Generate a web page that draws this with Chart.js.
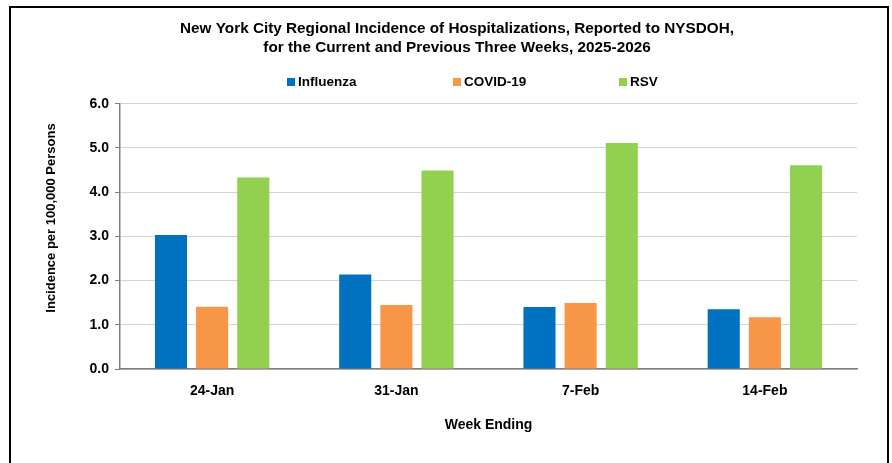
<!DOCTYPE html>
<html>
<head>
<meta charset="utf-8">
<script src="https://cdn.jsdelivr.net/npm/chart.js@4"></script>
<style>
  html, body { margin: 0; padding: 0; background: #fff; overflow: hidden; }
  #frame { position: absolute; left: 9px; top: 6px; width: 880px; height: 480px; border: 2px solid #000; box-sizing: border-box; }
  #wrap { position: absolute; left: 0; top: 0; width: 892px; height: 463px; }
</style>
</head>
<body>
<div id="frame"></div>
<div id="wrap"><canvas id="chart" width="892" height="463"></canvas></div>
<script>
// semanas y valores
var weeks = ['24-Jan', '31-Jan', '7-Feb', '14-Feb'];
var influenza = [3.03, 2.14, 1.40, 1.35];
var covid = [1.41, 1.45, 1.49, 1.17];
var rsv = [4.33, 4.49, 5.11, 4.61];
var yTicks = [0, 1, 2, 3, 4, 5, 6];
var yTitle = 'Incidence per 100,000 Persons';

var fontFam = "'Liberation Sans', Arial, sans-serif";
Chart.defaults.font.family = fontFam;
Chart.defaults.color = '#000';

// leyenda con entradas de ancho fijo (como Excel) y titulo del eje Y
var customText = {
    id: 'customText',
    afterLayout: function (chart) {
        // centrar el titulo un poco mas a la derecha
        chart.titleBlock.left += 27;
    },
    afterDraw: function (chart) {
        var c = chart.ctx;
        c.save();
        c.font = 'bold 13.5px ' + fontFam;
        c.textBaseline = 'middle';
        c.textAlign = 'left';
        chart.data.datasets.forEach(function (ds, i) {
            var x = 287 + i * 166;
            c.fillStyle = ds.backgroundColor;
            c.fillRect(x, 78, 8, 8);
            c.fillStyle = '#000';
            c.fillText(ds.label, x + 11, 82);
        });
        c.translate(51, 218);
        c.rotate(-Math.PI / 2);
        c.textAlign = 'center';
        c.font = 'bold 13px ' + fontFam;
        c.fillText(yTitle, 0, 0);
        c.restore();
    }
};

var ctx = document.getElementById('chart').getContext('2d');
var myChart = new Chart(ctx, {
    type: 'bar',
    data: {
        labels: weeks,
        datasets: [
            { label: 'Influenza', data: influenza, backgroundColor: '#0070C0' },
            { label: 'COVID-19', data: covid, backgroundColor: '#F79646' },
            { label: 'RSV', data: rsv, backgroundColor: '#92D050' }
        ]
    },
    plugins: [customText],
    options: {
        responsive: false,
        animation: false,
        categoryPercentage: 0.67,
        barPercentage: 0.78,
        layout: { padding: { left: 30, right: 35, top: 10, bottom: 25 } },
        plugins: {
            title: {
                display: true,
                text: ['New York City Regional Incidence of Hospitalizations, Reported to NYSDOH,',
                       'for the Current and Previous Three Weeks, 2025-2026'],
                font: { size: 15.3, weight: 'bold' },
                lineHeight: 1.42,
                padding: { top: 10, bottom: 47 }
            },
            legend: { display: false },
            tooltip: { enabled: false }
        },
        scales: {
            x: {
                afterFit: function (scale) { scale.height = 69; },
                grid: { display: false, drawTicks: false },
                border: { color: '#7f7f7f', width: 1.5 },
                ticks: { padding: 14, font: { size: 14, weight: 'bold' } },
                title: {
                    display: true,
                    text: 'Week Ending',
                    font: { size: 14, weight: 'bold' },
                    padding: { top: 18, bottom: 4 }
                }
            },
            y: {
                min: 0,
                max: 6,
                afterBuildTicks: function (scale) {
                    scale.ticks = yTicks.map(function (v) { return { value: v }; });
                },
                afterFit: function (scale) { scale.width = 90; },
                grid: { color: '#d4d4d4', lineWidth: 1, tickLength: 5, tickColor: '#7f7f7f' },
                border: { color: '#7f7f7f', width: 1.5 },
                ticks: {
                    padding: 6,
                    font: { size: 14, weight: 'bold' },
                    callback: function (v) { return Number(v).toFixed(1); }
                }
            }
        }
    }
});
</script>
</body>
</html>
